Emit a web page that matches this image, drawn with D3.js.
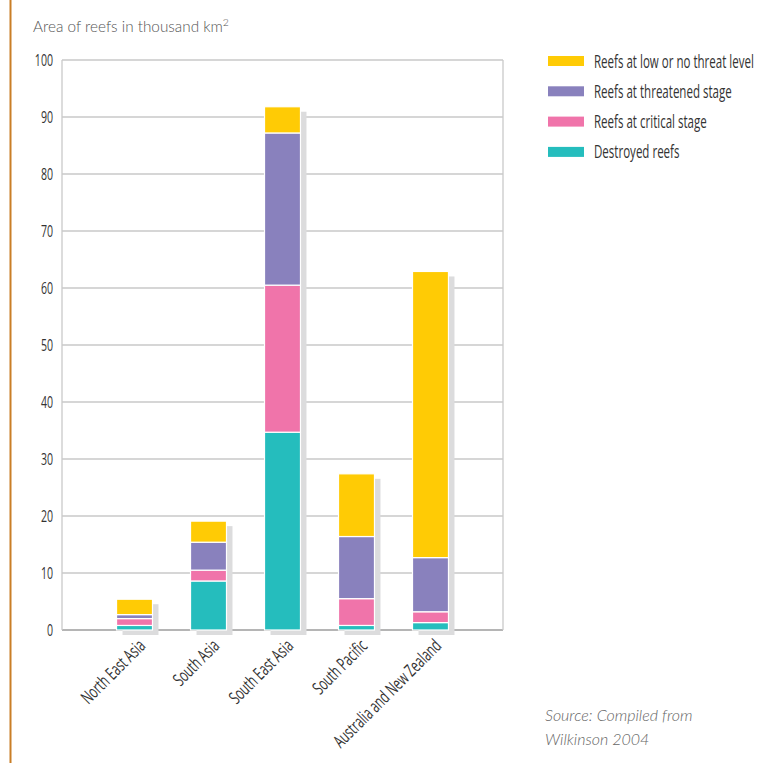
<!DOCTYPE html>
<html><head><meta charset="utf-8">
<script src="https://cdn.jsdelivr.net/npm/d3@7"></script>
<style>
body{margin:0;background:#fff;}
svg{display:block;}
</style></head>
<body>
<script>
const categories = ["North East Asia","South Asia","South East Asia","South Pacific","Australia and New Zealand"];
const seriesNames = ["Destroyed reefs","Reefs at critical stage","Reefs at threatened stage","Reefs at low or no threat level"];
const destroyed  = [0.8, 8.6, 34.7, 0.8, 1.3];
const critical   = [1.2, 1.9, 25.8, 4.7, 1.9];
const threatened = [0.7, 4.9, 26.7, 10.9, 9.5];
const lowThreat  = [2.7, 3.7, 4.6, 11.0, 50.2];
const yTicks = [0,10,20,30,40,50,60,70,80,90,100];
const colors = ["#25BDBD","#F074AA","#8981BD","#FFCB05"];

(function(){
const W=777,H=763;
const svg=d3.select("body").append("svg").attr("width",W).attr("height",H);
const condensed='"Open Sans",sans-serif';

svg.append("line").attr("x1",10.5).attr("x2",10.5).attr("y1",0).attr("y2",H)
  .attr("stroke","#C97E26").attr("stroke-width",2);

const pl=62,pr=503,pt=60,pb=630;
const x=d3.scaleBand().domain(categories).range([pl,pr]).paddingInner(0.514).paddingOuter(0.737);
const y=d3.scaleLinear().domain([0,100]).range([pb,pt]);

svg.append("g").selectAll("line").data(yTicks).join("line")
  .attr("x1",pl).attr("x2",pr).attr("y1",d=>y(d)).attr("y2",d=>y(d))
  .attr("stroke",d=>d===0?"#b5b5b5":"#c9c9c9").attr("stroke-width",d=>d===0?2:1.3);
svg.append("line").attr("x1",pl).attr("x2",pl).attr("y1",pt).attr("y2",pb).attr("stroke","#c9c9c9").attr("stroke-width",1.3);
svg.append("line").attr("x1",pr).attr("x2",pr).attr("y1",pt).attr("y2",pb).attr("stroke","#c9c9c9").attr("stroke-width",1.3);

// measure compression factor
const probe=svg.append("text").attr("font-family",condensed).attr("font-size",18).text(seriesNames[3]);
const k=160/probe.node().getComputedTextLength();
probe.remove();

const legendOrder=[3,2,1,0];
const lg=svg.append("g").selectAll("g").data(legendOrder).join("g")
  .attr("transform",(d,i)=>`translate(548,${61+i*30.3})`);
lg.append("rect").attr("x",0).attr("y",-5).attr("width",36).attr("height",10).attr("fill",d=>colors[d]);
lg.append("text").attr("transform",`translate(46,6.5) scale(${k},1)`)
  .attr("font-family",condensed).attr("font-size",18).attr("fill","#333").text(d=>seriesNames[d]);

const yAxis=d3.axisLeft(y).tickValues(yTicks).tickSize(0).tickPadding(9);
const ga=svg.append("g").attr("transform",`translate(${pl},0)`).call(yAxis);
ga.select(".domain").remove();
ga.selectAll("text").attr("x",-9/k).attr("transform",`scale(${k},1)`)
  .attr("font-family",condensed).attr("font-size",16.5).attr("fill","#333");

const t=svg.append("text").attr("x",33).attr("y",32).attr("font-family","Lato, 'Open Sans', sans-serif")
  .attr("font-weight",300).attr("font-size",15.3).attr("fill","#555").text("Area of reefs in thousand km");
t.append("tspan").attr("font-size",10.5).attr("dy",-6).text("2");

const table=categories.map((c,i)=>({cat:c,s0:destroyed[i],s1:critical[i],s2:threatened[i],s3:lowThreat[i]}));
const stack=d3.stack().keys(["s0","s1","s2","s3"])(table);
const totals=table.map(d=>d.s0+d.s1+d.s2+d.s3);

svg.append("g").selectAll("rect").data(table).join("rect")
  .attr("x",(d)=>x(d.cat)+6).attr("y",(d,i)=>y(totals[i])+5)
  .attr("width",x.bandwidth()).attr("height",(d,i)=>pb-y(totals[i]))
  .attr("fill","#dcdcdd");

svg.append("g").selectAll("g").data(stack).join("g").attr("fill",(d,i)=>colors[i])
  .selectAll("rect").data(d=>d).join("rect")
  .attr("x",d=>x(d.data.cat)).attr("y",d=>y(d[1]))
  .attr("width",x.bandwidth()).attr("height",d=>y(d[0])-y(d[1]))
  .attr("stroke","#fff").attr("stroke-width",1.2);

svg.append("g").selectAll("text").data(categories).join("text")
  .attr("transform",d=>`translate(${x(d)+x.bandwidth()/2+12},${647}) rotate(-45) scale(${k},1)`)
  .attr("text-anchor","end").attr("font-family",condensed).attr("font-size",18).attr("fill","#333")
  .text(d=>d);

const src=svg.append("text").attr("font-family","Lato, 'Open Sans', sans-serif").attr("font-style","italic")
  .attr("font-weight",300).attr("font-size",16).attr("fill","#666");
src.append("tspan").attr("x",545).attr("y",721).text("Source: Compiled from");
src.append("tspan").attr("x",545).attr("y",745).text("Wilkinson 2004");
})();
</script>
</body></html>
